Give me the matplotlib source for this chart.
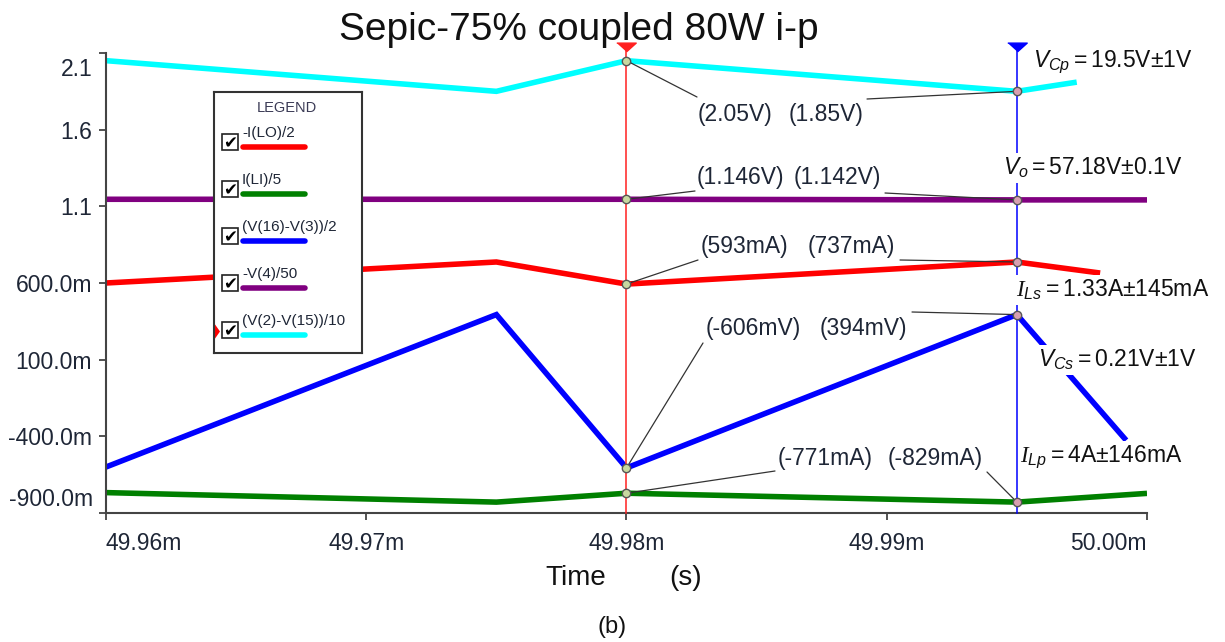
import matplotlib
matplotlib.use("Agg")
import matplotlib.pyplot as plt
from matplotlib.patches import Rectangle, Polygon

W, H = 1225, 642

# traces (time in ms)
t_red = [49.96, 49.975, 49.98, 49.995, 49.9982]
v_red = [0.600, 0.737, 0.593, 0.737, 0.665]
t_green = [49.96, 49.975, 49.98, 49.995, 50.0]
v_green = [-0.767, -0.829, -0.771, -0.829, -0.772]
t_blue = [49.96, 49.975, 49.98, 49.995, 49.9992]
v_blue = [-0.600, 0.394, -0.606, 0.394, -0.426]
t_purple = [49.96, 49.98, 49.995, 50.0]
v_purple = [1.146, 1.146, 1.142, 1.142]
t_cyan = [49.96, 49.975, 49.98, 49.995, 49.9973]
v_cyan = [2.05, 1.85, 2.05, 1.85, 1.91]

legend_names = ["-I(LO)/2", "I(LI)/5", "(V(16)-V(3))/2", "-V(4)/50", "(V(2)-V(15))/10"]
colors = ["#ff0000", "#008000", "#0000ff", "#800080", "#00ffff"]

# cursors and their readings (cyan, purple, red, blue, green)
cursor_a = 49.98
cursor_b = 49.995
read_a = [2.05, 1.146, 0.593, -0.606, -0.771]
read_b = [1.85, 1.142, 0.737, 0.394, -0.829]
text_a = ["(2.05V)", "(1.146V)", "(593mA)", "(-606mV)", "(-771mA)"]
text_b = ["(1.85V)", "(1.142V)", "(737mA)", "(394mV)", "(-829mA)"]

results = [r"$V_{Cp}=$19.5V±1V", r"$V_{o}=$57.18V±0.1V", r"$\mathcal{I}_{Ls}=$1.33A±145mA",
           r"$V_{Cs}=$0.21V±1V", r"$\mathcal{I}_{Lp}=$4A±146mA"]

xticks = [49.96, 49.97, 49.98, 49.99, 50.00]
xtick_labels = ["49.96m", "49.97m", "49.98m", "49.99m", "50.00m"]
yticks = [-0.9, -0.4, 0.1, 0.6, 1.1, 1.6, 2.1]
ytick_labels = ["-900.0m", "-400.0m", "100.0m", "600.0m", "1.1", "1.6", "2.1"]

plt.rcParams["font.family"] = ["Liberation Sans", "DejaVu Sans"]
plt.rcParams["mathtext.fontset"] = "custom"
plt.rcParams["mathtext.it"] = "Liberation Sans:italic"
plt.rcParams["mathtext.rm"] = "Liberation Sans"
plt.rcParams["mathtext.cal"] = "Liberation Serif:italic"

TXT = "#1e2636"

fig = plt.figure(figsize=(W / 100, H / 100), dpi=100)
ax = fig.add_axes([106 / W, (H - 513) / H, 1041 / W, 460 / H])

for t, v, c in [(t_cyan, v_cyan, colors[4]), (t_purple, v_purple, colors[3]),
                (t_red, v_red, colors[0]), (t_blue, v_blue, colors[2]),
                (t_green, v_green, colors[1])]:
    ax.plot(t, v, color=c, lw=4, solid_capstyle="butt", solid_joinstyle="miter", zorder=2)

ax.set_xlim(49.96, 50.0)
ax.set_ylim(-0.9, 2.1)
for s in ["top", "right"]:
    ax.spines[s].set_visible(False)
for s in ["left", "bottom"]:
    ax.spines[s].set_color("#444444")
    ax.spines[s].set_linewidth(1.5)

ax.set_xticks(xticks)
ax.set_xticklabels(xtick_labels)
ax.set_yticks(yticks)
# end labels are pulled inward, as TINA does
ax.set_yticklabels([""] + ytick_labels[1:-1] + [""])
ax.tick_params(axis="both", colors="#444444", labelcolor=TXT, labelsize=16.5, length=5, width=1.3)
ax.tick_params(axis="x", pad=9)
ax.tick_params(axis="y", pad=5)
xl = ax.get_xticklabels()
xl[0].set_ha("left")
xl[-1].set_ha("right")
for val, lab, dy in [(yticks[-1], ytick_labels[-1], -16), (yticks[0], ytick_labels[0], 14)]:
    ax.annotate(lab, xy=(0, val), xycoords=("axes fraction", "data"), xytext=(-13, dy),
                textcoords="offset pixels", ha="right", va="center", fontsize=16.5, color=TXT)

# cursors
tri = [(-1, 0.45), (1, 0.45), (0, -0.45)]
for cx, c in [(cursor_a, "#ff2020"), (cursor_b, "#0000ff")]:
    ax.plot([cx, cx], [-0.9, 2.15], color=c, lw=1.1, zorder=3, clip_on=False)
    ax.plot([cx], [2.14], marker=tri, ms=14, color=c, zorder=6, clip_on=False)

ax.plot([cursor_a] * 5, read_a, "o", ms=6, mfc="#c8d8a0", mec="#555555", mew=1, zorder=4)
ax.plot([cursor_b] * 5, read_b, "o", ms=6, mfc="#d8a0b0", mec="#555555", mew=1, zorder=4)

# cursor readouts with leader lines (pixel positions, y from top)
a_txt_pos = [(735, 114), (740, 178), (744, 247), (753, 329), (825, 458)]
a_line_end = [(697, 97), (695, 191), (698, 260), (703, 343), (775, 471)]
b_txt_pos = [(826, 115), (837, 178), (851, 247), (863, 329), (935, 458)]
b_line_end = [(867, 99), (885, 193), (900, 260), (912, 312), (987, 472)]

for cx, vals, texts, tpos, lend in [(cursor_a, read_a, text_a, a_txt_pos, a_line_end),
                                    (cursor_b, read_b, text_b, b_txt_pos, b_line_end)]:
    for v, s, (tx, ty), (lx, ly) in zip(vals, texts, tpos, lend):
        ax.annotate("", xy=(cx, v), xytext=(lx, H - ly), textcoords="figure pixels",
                    arrowprops=dict(arrowstyle="-", color="#333333", lw=0.9, shrinkA=0, shrinkB=0),
                    zorder=3)
        fig.text(tx / W, 1 - ty / H, s, ha="center", va="center", fontsize=16.5, color=TXT)

res_pos = [(1033, 62), (1003, 168), (1016, 290), (1038, 360), (1020, 457)]
for s, (rx, ry) in zip(results, res_pos):
    fig.text(rx / W, 1 - ry / H, s, ha="left", va="center", fontsize=16.5, color="#111111",
             bbox=dict(boxstyle="square,pad=0.1", fc="white", ec="none"), zorder=7)

# legend box
lg = fig.add_axes([214 / W, 1 - 353 / H, 148 / W, 261 / H])
lg.set_zorder(5)
lg.set_xlim(0, 148)
lg.set_ylim(261, 0)
lg.set_xticks([])
lg.set_yticks([])
for s in lg.spines.values():
    s.set_color("#333333")
    s.set_linewidth(1.5)
lg.text(73, 16, "LEGEND", ha="center", va="center", fontsize=10.5, color="#3a3a55")
for i, (name, c) in enumerate(zip(legend_names, colors)):
    y0 = 47 * i
    lg.add_patch(Rectangle((8, 42 + y0), 16, 16, fc="white", ec="#222222", lw=1.2))
    lg.text(16, 51 + y0, "\u2714", ha="center", va="center", fontsize=12, color="black",
            family="DejaVu Sans")
    lg.text(28, 41 + y0, name, ha="left", va="center", fontsize=11, color=TXT)
    lg.plot([29, 91], [55 + y0, 55 + y0], color=c, lw=4, solid_capstyle="round")
lg.add_patch(Polygon([(0, 231), (0, 248), (6, 239.5)], closed=True, fc="red", ec="none",
                     clip_on=False))

fig.text(579 / W, 1 - 30 / H, "Sepic-75% coupled 80W i-p", ha="center", va="center",
         fontsize=28, color="#111111")
fig.text(576 / W, 1 - 578 / H, "Time", ha="center", va="center", fontsize=20, color="#111111")
fig.text(686 / W, 1 - 578 / H, "(s)", ha="center", va="center", fontsize=20, color="#111111")
fig.text(612 / W, 1 - 627 / H, "(b)", ha="center", va="center", fontsize=17, color="#111111")

fig.savefig("out.png", dpi=100)
